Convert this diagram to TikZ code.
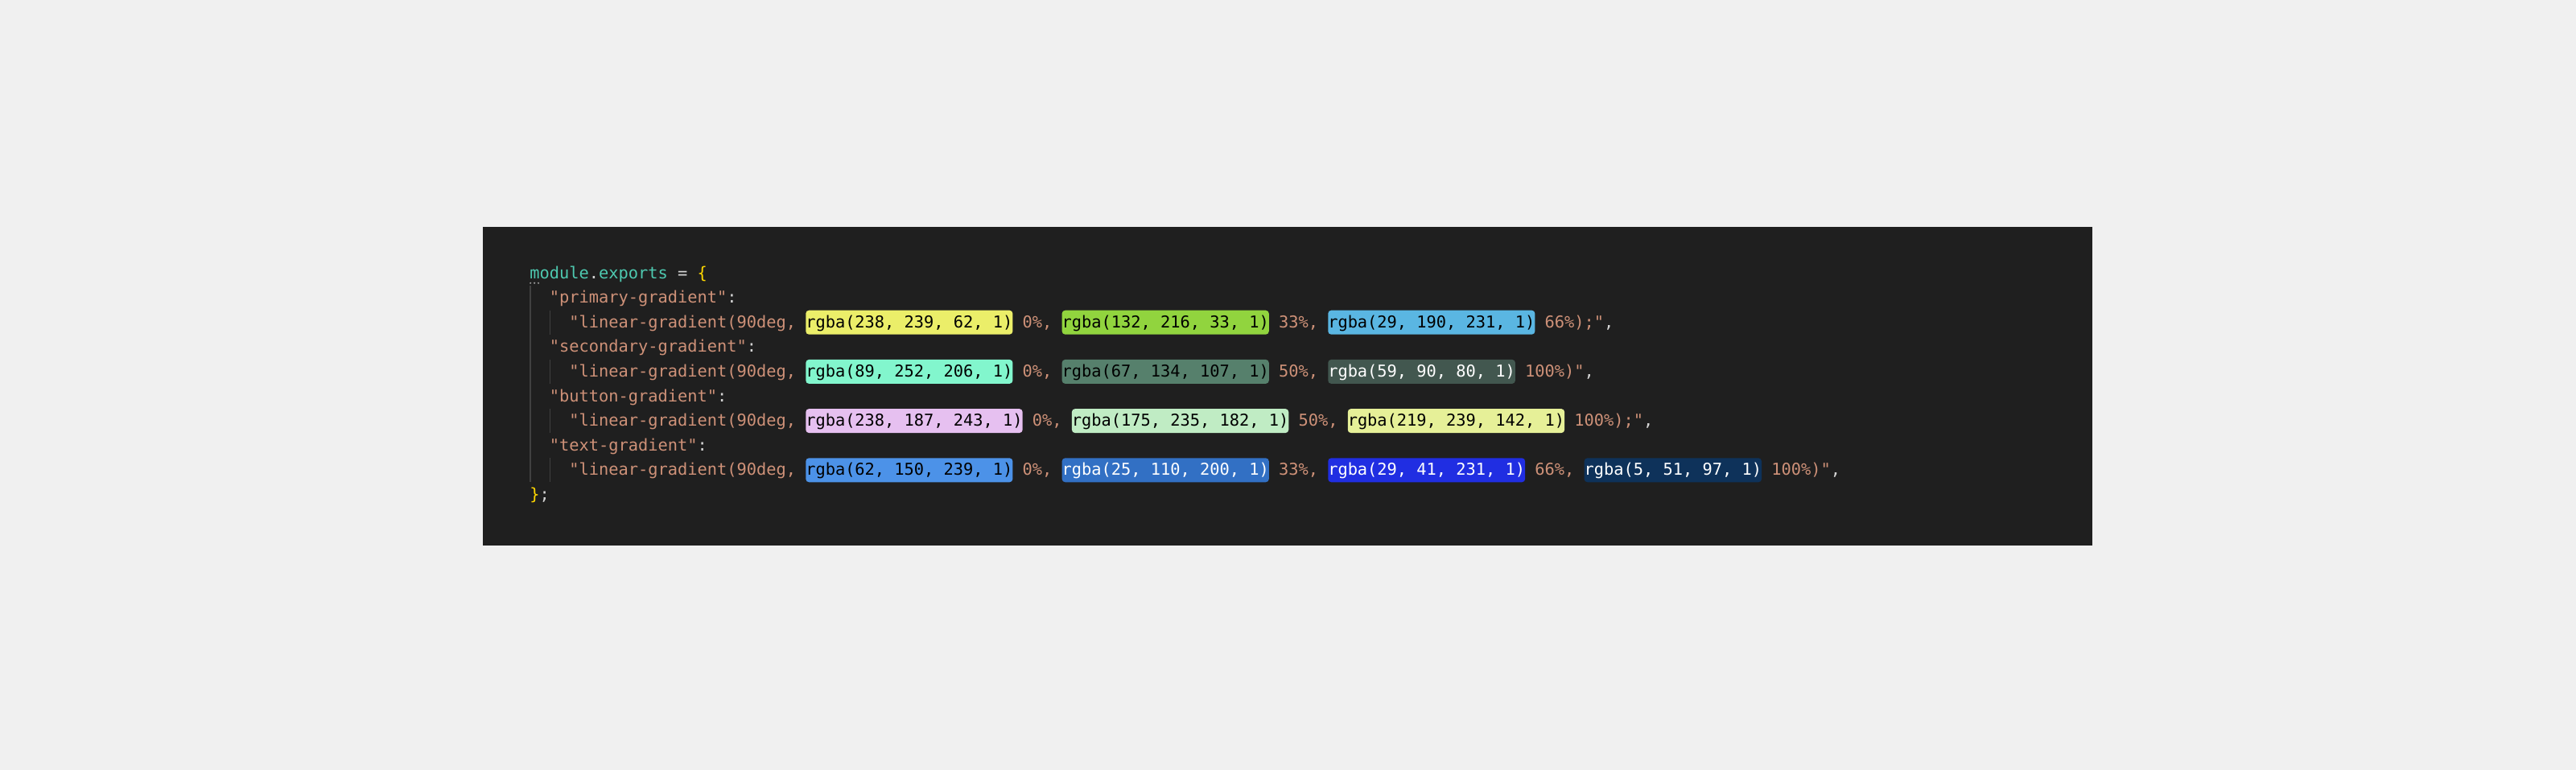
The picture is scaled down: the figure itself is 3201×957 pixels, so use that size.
\documentclass[tikz,border=0pt]{standalone}
\usepackage{fontspec}
\newfontfamily\codefont{DejaVu Sans Mono}
\definecolor{pagebg}{HTML}{F0F0F0}
\definecolor{editorbg}{HTML}{1F1F1F}
\definecolor{strcol}{HTML}{CE9178}
\definecolor{puncol}{HTML}{D4D4D4}
\definecolor{idcol}{HTML}{4EC9B0}
\definecolor{bracecol}{HTML}{FFD700}
\definecolor{guidecol}{HTML}{404040}
\definecolor{hintcol}{HTML}{9A9A9A}
\definecolor{primA}{RGB}{235,238,105}
\definecolor{primB}{RGB}{145,212,62}
\definecolor{primC}{RGB}{90,182,226}
\definecolor{secA}{RGB}{130,246,205}
\definecolor{secB}{RGB}{86,128,108}
\definecolor{secC}{RGB}{66,87,79}
\definecolor{btnA}{RGB}{230,192,240}
\definecolor{btnB}{RGB}{192,236,196}
\definecolor{btnC}{RGB}{230,240,152}
\definecolor{txtA}{RGB}{76,146,232}
\definecolor{txtB}{RGB}{50,112,196}
\definecolor{txtC}{RGB}{32,46,226}
\definecolor{txtD}{RGB}{14,50,90}
\begin{document}
\begin{tikzpicture}[x=0.5pt,y=-0.5pt,
	every node/.style={inner sep=0pt,anchor=base west,font=\codefont\fontsize{10.17pt}{15.3pt}\selectfont},
	strtext/.style={text=strcol}, punctext/.style={text=puncol},
	idtext/.style={text=idcol}, bracetext/.style={text=bracecol},
	swatch/.style 2 args={fill=#1,text=#2,rounded corners=2pt,text height=10.75pt,text depth=4.25pt},
	guide/.style={draw=guidecol,line width=0.6pt}]
	\fill[pagebg] (0,0) rectangle (3201,957);
	\fill[editorbg] (600,282) rectangle (2600,678);
	\begin{scope}[shift={(329pt,-173pt)},x=6.1225pt,y=-15.3pt]
	% indent guides and hint dots
	\draw[guide] (0.08,0.297)--(0.08,8.278);
	\draw[guide] (2.08,1.297)--(2.08,2.278) (2.08,3.297)--(2.08,4.278)
		(2.08,5.297)--(2.08,6.278) (2.08,7.297)--(2.08,8.278);
	\fill[hintcol] (0.1,0.19) circle (0.6pt) (0.5,0.19) circle (0.6pt) (0.9,0.19) circle (0.6pt);
	% module.exports = {
	\node[idtext] (mod) at (0,0) {module}; \node[punctext] (dot) at (6,0) {.};
	\node[idtext] (exp) at (7,0) {exports}; \node[punctext] (eq) at (15,0) {=};
	\node[bracetext] (open) at (17,0) {\{};
	% primary
	\node[strtext] (k1) at (2,1) {"primary-gradient"}; \node[punctext] (k1c) at (20,1) {:};
	\node[strtext] (v1) at (4,2) {"linear-gradient(90deg,};
	\node[swatch={primA}{black}] (v1a) at (28,2) {rgba(238, 239, 62, 1)};
	\node[strtext] (v1p) at (50,2) {0\%,};
	\node[swatch={primB}{black}] (v1b) at (54,2) {rgba(132, 216, 33, 1)};
	\node[strtext] (v1q) at (76,2) {33\%,};
	\node[swatch={primC}{black}] (v1c) at (81,2) {rgba(29, 190, 231, 1)};
	\node[strtext] (v1e) at (103,2) {66\%);"}; \node[punctext] (v1k) at (109,2) {,};
	% secondary
	\node[strtext] (k2) at (2,3) {"secondary-gradient"}; \node[punctext] (k2c) at (22,3) {:};
	\node[strtext] (v2) at (4,4) {"linear-gradient(90deg,};
	\node[swatch={secA}{black}] (v2a) at (28,4) {rgba(89, 252, 206, 1)};
	\node[strtext] (v2p) at (50,4) {0\%,};
	\node[swatch={secB}{black}] (v2b) at (54,4) {rgba(67, 134, 107, 1)};
	\node[strtext] (v2q) at (76,4) {50\%,};
	\node[swatch={secC}{white}] (v2c) at (81,4) {rgba(59, 90, 80, 1)};
	\node[strtext] (v2e) at (101,4) {100\%)"}; \node[punctext] (v2k) at (107,4) {,};
	% button
	\node[strtext] (k3) at (2,5) {"button-gradient"}; \node[punctext] (k3c) at (19,5) {:};
	\node[strtext] (v3) at (4,6) {"linear-gradient(90deg,};
	\node[swatch={btnA}{black}] (v3a) at (28,6) {rgba(238, 187, 243, 1)};
	\node[strtext] (v3p) at (51,6) {0\%,};
	\node[swatch={btnB}{black}] (v3b) at (55,6) {rgba(175, 235, 182, 1)};
	\node[strtext] (v3q) at (78,6) {50\%,};
	\node[swatch={btnC}{black}] (v3c) at (83,6) {rgba(219, 239, 142, 1)};
	\node[strtext] (v3e) at (106,6) {100\%);"}; \node[punctext] (v3k) at (113,6) {,};
	% text
	\node[strtext] (k4) at (2,7) {"text-gradient"}; \node[punctext] (k4c) at (17,7) {:};
	\node[strtext] (v4) at (4,8) {"linear-gradient(90deg,};
	\node[swatch={txtA}{black}] (v4a) at (28,8) {rgba(62, 150, 239, 1)};
	\node[strtext] (v4p) at (50,8) {0\%,};
	\node[swatch={txtB}{white}] (v4b) at (54,8) {rgba(25, 110, 200, 1)};
	\node[strtext] (v4q) at (76,8) {33\%,};
	\node[swatch={txtC}{white}] (v4c) at (81,8) {rgba(29, 41, 231, 1)};
	\node[strtext] (v4r) at (102,8) {66\%,};
	\node[swatch={txtD}{white}] (v4d) at (107,8) {rgba(5, 51, 97, 1)};
	\node[strtext] (v4e) at (126,8) {100\%)"}; \node[punctext] (v4k) at (132,8) {,};
	% };
	\node[bracetext] (close) at (0,9) {\}}; \node[punctext] (semi) at (1,9) {;};
	\end{scope}
\end{tikzpicture}
\end{document}
